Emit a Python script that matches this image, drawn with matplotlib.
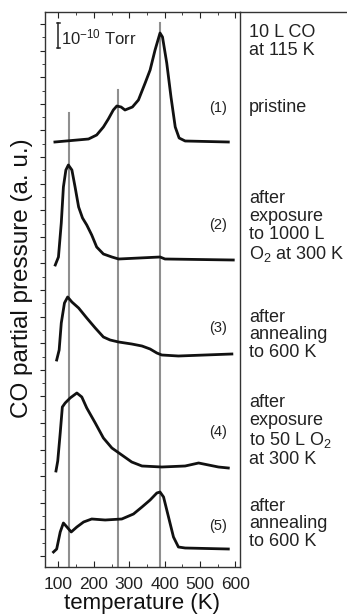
import matplotlib
matplotlib.use("Agg")
import matplotlib.pyplot as plt
from matplotlib.ticker import MultipleLocator
from matplotlib.lines import Line2D

plt.rcParams['font.family'] = ['Liberation Sans', 'DejaVu Sans']
plt.rcParams['mathtext.fontset'] = 'custom'
plt.rcParams['mathtext.rm'] = 'Liberation Sans'
plt.rcParams['mathtext.it'] = 'Liberation Sans:italic'

# TPD traces, temperature (K) vs CO signal (stacked, arbitrary units)
t1 = [90, 185, 208, 227, 241, 255, 265, 277, 288, 309, 326, 345, 359, 373, 387, 394, 406, 418, 430, 441, 458, 580]
s1 = [414, 417, 421, 429, 437, 446, 450, 449, 446, 449, 456, 473, 486, 506, 523, 519, 493, 459, 429, 418, 415, 414]

t2 = [91, 100, 108, 114, 121, 128, 138, 147, 157, 168, 180, 194, 208, 227, 251, 270, 387, 401, 594]
s2 = [291, 299, 333, 369, 386, 391, 386, 369, 349, 338, 331, 321, 309, 302, 299, 297, 299, 297, 296]

t3 = [95, 102, 108, 117, 126, 138, 157, 180, 204, 227, 246, 270, 307, 336, 359, 378, 392, 439, 590]
s3 = [196, 206, 233, 253, 259, 254, 248, 238, 228, 219, 216, 214, 212, 210, 207, 203, 201, 200, 202]

t4 = [93, 98, 105, 111, 119, 133, 152, 166, 180, 204, 227, 251, 279, 307, 336, 392, 458, 496, 524, 552, 580]
s4 = [85, 95, 123, 149, 153, 158, 163, 159, 148, 133, 118, 108, 101, 94, 90, 89, 90, 93, 91, 89, 88]

t5 = [86, 95, 105, 114, 124, 136, 152, 171, 194, 232, 279, 312, 336, 359, 378, 387, 397, 411, 425, 439, 458, 580]
s5 = [4, 7, 24, 33, 29, 24, 29, 34, 37, 36, 37, 42, 49, 56, 63, 64, 59, 39, 19, 9, 8, 7]

traces = [(t1, s1), (t2, s2), (t3, s3), (t4, s4), (t5, s5)]
trace_labels = ['(1)', '(2)', '(3)', '(4)', '(5)']
label_y = [448, 331, 228, 124, 30]

peak_T = [129, 267, 388]
peak_top = [443, 466, 533]

conditions = [
    '10 L CO\nat 115 K',
    'pristine',
    'after\nexposure\nto 1000 L\nO$_2$ at 300 K',
    'after\nannealing\nto 600 K',
    'after\nexposure\nto 50 L O$_2$\nat 300 K',
    'after\nannealing\nto 600 K',
]
cond_ypx = [41.5, 107, 227, 335, 431, 524]

W, H = 347, 616
fig = plt.figure(figsize=(W / 100, H / 100), dpi=100)
ax = fig.add_axes([45 / W, 1 - 567 / H, 195 / W, 555 / H])

ymin, ymax = -11, 544
for T, top in zip(peak_T, peak_top):
    ax.plot([T, T], [ymin, top], color='#8f8f8f', lw=1.5, zorder=1)

for (t, s) in traces:
    ax.plot(t, s, color='#111111', lw=2.0, zorder=2, solid_joinstyle='round')

for lab, y in zip(trace_labels, label_y):
    ax.text(577, y, lab, ha='right', va='center', fontsize=10.5, color='#222222')

# scale bar
ax.plot([100, 100], [508, 533], color='#222222', lw=1.1)
ax.plot([96, 104], [508, 508], color='#222222', lw=1.1)
ax.plot([96, 104], [533, 533], color='#222222', lw=1.1)
ax.text(106, 519, '10$^{-10}$ Torr', ha='left', va='center', fontsize=12, color='#222222')

ax.set_xlim(62, 613)
ax.set_ylim(ymin, ymax)
ax.xaxis.set_major_locator(MultipleLocator(100))
ax.xaxis.set_minor_locator(MultipleLocator(50))
ax.yaxis.set_major_locator(MultipleLocator(26.6))
ax.yaxis.set_minor_locator(MultipleLocator(13.3))
ax.set_yticklabels([])
ax.tick_params(axis='x', which='both', direction='in', top=True, labelsize=12.5, pad=7, colors='#222222')
ax.tick_params(axis='x', which='major', length=4)
ax.tick_params(axis='x', which='minor', length=2.5)
ax.tick_params(axis='y', which='major', direction='out', length=3.5, colors='#222222')
ax.tick_params(axis='y', which='minor', direction='out', length=2, colors='#222222')
for sp in ax.spines.values():
    sp.set_color('#333333')
    sp.set_linewidth(1.0)

ax.set_xlabel('temperature (K)', fontsize=16, labelpad=1, color='#111111')
ax.set_ylabel('CO partial pressure (a. u.)', fontsize=17.5, color='#111111')
ax.yaxis.set_label_coords(-0.06, 0.52)

# right panel frame (top line continues to figure edge)
fig.add_artist(Line2D([240 / W, 1.0], [1 - 12 / H, 1 - 12 / H], color='#333333', lw=1.0))

for txt, ypx in zip(conditions, cond_ypx):
    fig.text(249 / W, 1 - ypx / H, txt, ha='left', va='center', fontsize=13,
             linespacing=1.05, color='#222222')

fig.savefig('out.png', dpi=100)
